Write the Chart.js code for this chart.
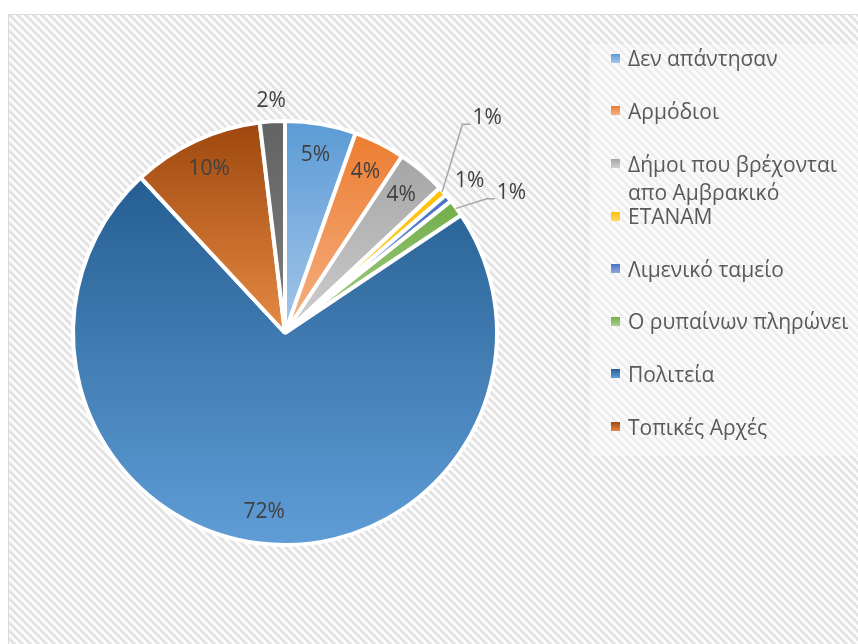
<!DOCTYPE html>
<html>
<head>
<meta charset="utf-8">
<script src="https://cdn.jsdelivr.net/npm/chart.js@4.4.1/dist/chart.umd.min.js"></script>
<style>
  body { margin: 0; width: 858px; height: 644px; overflow: hidden; position: relative; background: #fff; }
  #frame {
    position: absolute; left: 8px; top: 14px; width: 900px; height: 700px;
    border: 1px solid #d9d9d9; box-sizing: border-box;
    background: repeating-linear-gradient(45deg, #e3e3e3 0 2.8px, #fbfbfb 2.8px 5.66px);
  }
  #legendBg { position: absolute; left: 590px; top: 44px; width: 268px; height: 412px; background: rgba(255,255,255,0.4); }
  #myChart { position: absolute; left: 0; top: 0; }
  #legend { position: absolute; left: 0; top: 0; font-family: 'Open Sans', sans-serif; font-size: 21px; color: #595959; }
  .item { position: absolute; left: 611px; line-height: 28px; white-space: nowrap; }
  .box { position: absolute; left: 0; top: 9.5px; width: 9px; height: 9px; }
  .text { position: absolute; left: 17px; top: 0; }
</style>
</head>
<body>
<div id="frame"></div>
<div id="legendBg"></div>
<canvas id="myChart" width="858" height="644"></canvas>
<div id="legend"></div>
<script>
// categories (the last slice has no legend entry in the original)
const categories = [
  'Δεν απάντησαν',
  'Αρμόδιοι',
  ['Δήμοι που βρέχονται', 'απο Αμβρακικό'],
  'ΕΤΑΝΑΜ',
  'Λιμενικό ταμείο',
  'Ο ρυπαίνων πληρώνει',
  'Πολιτεία',
  'Τοπικές Αρχές',
  'Άλλο'
];
const shares = [5.4, 3.9, 3.7, 0.7, 0.6, 1.3, 72.4, 10.0, 1.9];
const legendCount = 8;

// gradient colours, top -> bottom of each slice
const topColors = ['#5B9BD5', '#ED7D31', '#A5A5A5', '#FFC000', '#4472C4', '#70AD47', '#255E91', '#9E480E', '#636363'];
const bottomColors = ['#A5C6EA', '#F4B185', '#CECECE', '#FFD966', '#8FAADC', '#A9D18E', '#609DD7', '#E68A44', '#7E7E7E'];

// outside labels that Excel pushed aside (px), drawn with a leader line
const labelNudge = { 3: [24, -55], 5: [33, 1] };

const ctx = document.getElementById('myChart').getContext('2d');

const pieLabels = {
  id: 'pieLabels',
  afterDatasetsDraw(chart) {
    const c = chart.ctx;
    const meta = chart.getDatasetMeta(0);
    const data = chart.data.datasets[0].data;
    const total = data.reduce((a, b) => a + b, 0);
    c.save();
    c.font = '21px "Open Sans"';
    c.fillStyle = '#404040';
    c.textAlign = 'center';
    c.textBaseline = 'middle';
    meta.data.forEach((arc, i) => {
      const txt = Math.round(data[i] / total * 100) + '%';
      const mid = (arc.startAngle + arc.endAngle) / 2;
      const cos = Math.cos(mid), sin = Math.sin(mid);
      let x, y;
      if (data[i] / total > 0.03) {
        const r = arc.outerRadius * 0.85;
        x = arc.x + cos * r;
        y = arc.y + sin * r;
      } else {
        const w = c.measureText(txt).width, h = 19;
        const r = arc.outerRadius + 10 + Math.abs(cos) * w / 2 + Math.abs(sin) * h / 2;
        x = arc.x + cos * r;
        y = arc.y + sin * r;
        const nudge = labelNudge[i];
        if (nudge) {
          x += nudge[0];
          y += nudge[1];
          const left = x - w / 2;
          c.beginPath();
          c.moveTo(arc.x + cos * (arc.outerRadius - 1), arc.y + sin * (arc.outerRadius - 1));
          c.lineTo(left - 10, y + 6);
          c.lineTo(left - 2, y + 6);
          c.strokeStyle = '#a6a6a6';
          c.lineWidth = 1.5;
          c.stroke();
        }
      }
      c.fillText(txt, x, y);
    });
    c.restore();
  }
};

const myChart = new Chart(ctx, {
  type: 'pie',
  data: {
    labels: categories,
    datasets: [{
      data: shares,
      backgroundColor: topColors,
      borderColor: '#ffffff',
      borderWidth: 4
    }]
  },
  options: {
    responsive: false,
    animation: false,
    layout: { padding: { left: 71, right: 359, top: 119, bottom: 97 } },
    plugins: {
      legend: { display: false },
      tooltip: { enabled: false }
    }
  },
  plugins: [pieLabels]
});

// vertical gradient over each slice's bounding box
function sliceGradient(arc, top, bottom) {
  let minY = arc.y, maxY = arc.y;
  const angles = [arc.startAngle, arc.endAngle];
  for (let k = -1; k <= 3; k++) {
    const a = k * Math.PI / 2;
    if (a > arc.startAngle && a < arc.endAngle) angles.push(a);
  }
  angles.forEach(a => {
    const y = arc.y + Math.sin(a) * arc.outerRadius;
    minY = Math.min(minY, y);
    maxY = Math.max(maxY, y);
  });
  const g = ctx.createLinearGradient(0, minY, 0, maxY);
  g.addColorStop(0, top);
  g.addColorStop(1, bottom);
  return g;
}
const arcs = myChart.getDatasetMeta(0).data;
myChart.data.datasets[0].backgroundColor = arcs.map((arc, i) => sliceGradient(arc, topColors[i], bottomColors[i]));
myChart.update('none');

// legend
const legend = document.getElementById('legend');
for (let i = 0; i < legendCount; i++) {
  const item = document.createElement('div');
  item.className = 'item';
  item.style.top = (58.3 + i * 52.6 - 14) + 'px';
  const box = document.createElement('div');
  box.className = 'box';
  box.style.background = 'linear-gradient(' + topColors[i] + ',' + bottomColors[i] + ')';
  const text = document.createElement('div');
  text.className = 'text';
  text.innerHTML = [].concat(categories[i]).join('<br>');
  item.appendChild(box);
  item.appendChild(text);
  legend.appendChild(item);
}
</script>
</body>
</html>
